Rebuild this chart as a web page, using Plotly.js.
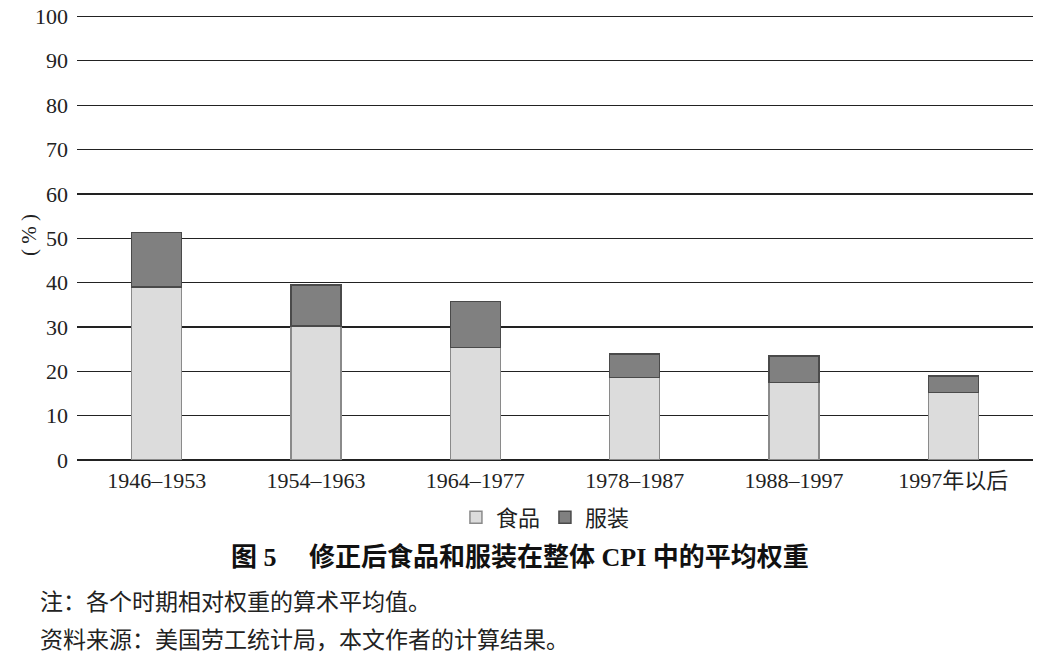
<!DOCTYPE html>
<html>
<head>
<meta charset="utf-8">
<script src="https://cdn.plot.ly/plotly-3.0.1.min.js"></script>
<style>html,body{margin:0;padding:0;background:#fff;}#chart{width:1042px;height:668px;}</style>
</head>
<body>
<div id="chart"></div>
<script>
var categories = ["1946–1953", "1954–1963", "1964–1977", "1978–1987", "1988–1997", "1997年以后"];
var foodValues = [39.0, 30.2, 25.4, 18.6, 17.5, 15.2];
var clothingValues = [12.3, 9.3, 10.3, 5.3, 5.9, 3.7];
var seriesNames = ["食品", "服装"];
var yTicks = [0, 10, 20, 30, 40, 50, 60, 70, 80, 90, 100];
var chartTitle = "图 5　 修正后食品和服装在整体 CPI 中的平均权重";
var noteText = "注：各个时期相对权重的算术平均值。";
var sourceText = "资料来源：美国劳工统计局，本文作者的计算结果。";

var FONT = "Liberation Serif, Noto Sans CJK SC, serif";

var traces = [
  {type: "bar", name: seriesNames[0], x: categories, y: foodValues,
   marker: {color: "#dcdcdc", line: {color: "#8a8a8a", width: 1.5}}},
  {type: "bar", name: seriesNames[1], x: categories, y: clothingValues,
   marker: {color: "#808080", line: {color: "#4a4a4a", width: 1.5}}}
];

var layout = {
  width: 1042, height: 668,
  margin: {l: 77, r: 9, t: 12, b: 208},
  paper_bgcolor: "#fff", plot_bgcolor: "#fff",
  barmode: "stack", bargap: 0.686,
  font: {family: FONT, size: 21, color: "#222"},
  showlegend: true,
  legend: {orientation: "h", x: 0.49, xanchor: "center", y: -0.128, yanchor: "middle",
           font: {family: FONT, size: 22, color: "#222"}, traceorder: "normal", itemwidth: 30},
  xaxis: {type: "category", showgrid: false, showline: false, ticks: "",
          ticklabelstandoff: 5,
          tickfont: {family: FONT, size: 22, color: "#222"}, fixedrange: true},
  yaxis: {range: [0, 101], tickvals: yTicks, showgrid: true, gridcolor: "#222", gridwidth: 1.3,
          zeroline: true, zerolinecolor: "#222", zerolinewidth: 1.5, showline: false, ticks: "",
          ticklabelstandoff: 8,
          tickfont: {family: FONT, size: 22, color: "#222"}},
  annotations: [
    {text: "( % )", textangle: -90, xref: "paper", yref: "paper", x: -0.065, y: 0.502,
     showarrow: false, font: {family: FONT, size: 21, color: "#222"}},
    {text: "<b>" + chartTitle + "</b>", xref: "paper", yref: "paper", x: 0.463, y: -0.216,
     xanchor: "center", yanchor: "middle", showarrow: false,
     font: {family: FONT, size: 26, color: "#111"}},
    {text: noteText, xref: "paper", yref: "paper", x: -0.041, y: -0.319,
     xanchor: "left", yanchor: "middle", showarrow: false,
     font: {family: FONT, size: 23, color: "#222"}},
    {text: sourceText, xref: "paper", yref: "paper", x: -0.041, y: -0.402,
     xanchor: "left", yanchor: "middle", showarrow: false,
     font: {family: FONT, size: 23, color: "#222"}}
  ]
};

Plotly.newPlot("chart", traces, layout, {displayModeBar: false, staticPlot: true});
</script>
</body>
</html>
